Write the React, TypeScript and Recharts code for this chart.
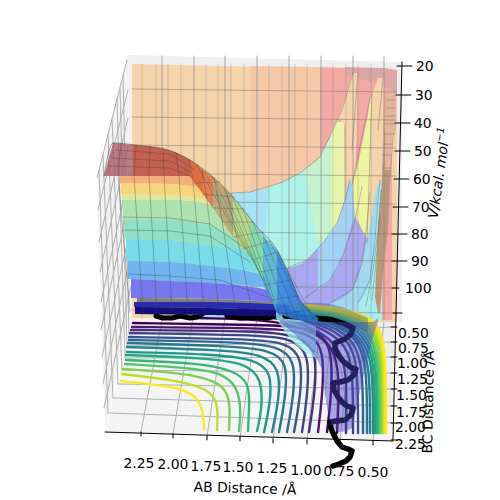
import React from 'react';
import { ComposedChart, Area, Line, XAxis, YAxis, LabelList } from 'recharts';

type Pt = [number, number];
type Col = [number, number, number]; // x, upper, lower

const paneBack: Col[] = [[127, 55, 55], [128, 55, 320], [402, 62, 322]];
const paneLeft: Col[] = [[97, 180, 180], [105, 150, 432], [127, 60, 322], [133, 58, 345]];
const paneFloor: Col[] = [[105, 432, 432], [133, 318, 433], [380, 320, 440], [393, 332, 441]];
const paneRight: Col[] = [[378, 68, 322], [393, 66, 441], [402, 63, 64]];

const wallBase: Col[] = [[132, 64, 318], [397, 70, 322]];
const wallSalmon: Col[] = [[250, 66, 200], [320, 67, 200]];
const wallPink: Col[] = [[320, 67, 320], [392, 69, 320]];
const wallTopDark: Col[] = [[345, 67, 75], [383, 68, 85], [397, 70, 95]];
const belowFirstCurve: Col[] = [[200, 196, 320], [233, 193, 320], [250, 192, 320], [283, 182, 320], [300, 173, 320], [310, 166, 320], [320, 157, 320], [333, 130, 320], [338, 118, 320]];
const cyanPatch: Col[] = [[262, 260, 320], [266, 225, 320], [270, 188, 320], [283, 182, 320], [300, 173, 320], [310, 166, 320], [320, 157, 320], [333, 130, 320], [338, 118, 320]];
const mintPatch: Col[] = [[305, 170, 180], [310, 166, 200], [318, 159, 243], [323, 150, 243], [331, 135, 230], [338, 118, 222]];
const yellowFirst: Col[] = [[331, 135, 228], [337, 122, 223], [343, 122, 205], [345, 125, 200]];
const orangeFirst: Col[] = [[338, 118, 119], [344, 102, 123], [345, 98, 205], [352, 74, 205], [355, 73, 190], [358, 73, 74]];
const yellowSecond: Col[] = [[352, 185, 186], [355, 178, 215], [360, 155, 225], [364, 135, 235], [368, 115, 240], [370, 98, 240], [372, 97, 130]];
const orangeSecond: Col[] = [[369, 238, 239], [372, 95, 215], [378, 78, 190], [382, 78, 180], [384, 78, 80]];
const purpleLow: Col[] = [[287, 268, 320], [307, 260, 320], [318, 248, 320]];
const lightBlue: Col[] = [[318, 248, 320], [323, 243, 320], [337, 223, 320], [345, 200, 320], [350, 180, 320], [352, 186, 320], [355, 215, 320], [362, 240, 320]];
const purpleMid: Col[] = [[305, 298, 320], [318, 290, 320], [330, 280, 320], [343, 255, 320], [355, 219, 320], [362, 230, 320], [368, 240, 320]];
const lightBlueRight: Col[] = [[330, 303, 320], [352, 290, 320], [362, 263, 320], [367, 240, 320], [372, 215, 320], [376, 190, 320], [382, 180, 320]];
const cyanRight: Col[] = [[358, 303, 320], [370, 280, 320], [375, 240, 320], [378, 200, 320], [382, 180, 320]];
const brownEdge: Col[] = [[375, 297, 297], [378, 230, 313], [380, 205, 313], [382, 180, 285], [386, 93, 245], [388, 93, 230], [390, 93, 185], [393, 93, 143], [396, 93, 127]];
const paleEdge: Col[] = [[385, 93, 170], [390, 93, 170], [393, 93, 143], [396, 93, 127]];

const domeMauve: Col[] = [[104, 176, 176], [113, 143, 176], [133, 145, 176]];
const domeRed: Col[] = [[133, 145, 176], [168, 150, 176], [190, 160, 180], [203, 170, 194]];
const domeOrange: Col[] = [[120, 176, 183], [170, 176, 184], [188, 176, 186], [197, 186, 187]];
const domeYellow: Col[] = [[121, 183, 194], [170, 184, 195], [197, 187, 198], [206, 198, 199]];
const domePale: Col[] = [[122, 194, 200], [170, 195, 200], [206, 199, 204], [210, 204, 205]];
const domeGreen: Col[] = [[123, 200, 220], [170, 200, 220], [210, 205, 226], [240, 238, 241]];
const domeMint: Col[] = [[125, 220, 239], [170, 220, 240], [210, 226, 246], [240, 241, 252], [257, 252, 253]];
const domeCyan: Col[] = [[126, 239, 261], [170, 240, 262], [210, 246, 266], [257, 252, 273], [262, 275, 276]];
const domeBlue: Col[] = [[128, 261, 279], [170, 262, 281], [210, 266, 283], [262, 275, 287], [268, 290, 291]];
const domePeri: Col[] = [[131, 279, 298], [170, 281, 298], [210, 283, 299], [268, 290, 302], [274, 303, 304]];
const domeGrey: Col[] = [[137, 298, 302], [210, 299, 302], [274, 302, 305]];
const domeDeep: Col[] = [[134, 302, 307], [210, 302, 308], [290, 305, 311]];
const domeNavy: Col[] = [[135, 307, 314], [210, 308, 315], [300, 311, 317]];

const wedgeRed: Col[] = [[190, 160, 177], [203, 170, 194], [213, 177, 208]];
const wedgeOlive: Col[] = [[213, 177, 208], [233, 197, 237]];
const wedgeLime: Col[] = [[233, 197, 237], [250, 218, 257]];
const wedgeGreen: Col[] = [[250, 218, 257], [263, 236, 280]];
const wedgeTeal: Col[] = [[263, 236, 280], [277, 250, 313]];
const wedgeBlue: Col[] = [[277, 250, 313], [290, 277, 318], [300, 300, 320], [318, 318, 322]];
const paleTail: Col[] = [[276, 312, 318], [290, 317, 338], [305, 322, 352], [316, 326, 358]];
const arcShade: Col[] = [[240, 303, 316], [320, 303, 317], [350, 310, 325], [368, 318, 332]];

const blob: Col[] = [[280, 320, 322], [300, 322, 340], [322, 322, 370], [325, 322, 395], [330, 322, 420], [340, 322, 432], [352, 322, 428], [358, 322, 400], [365, 322, 370], [372, 322, 340], [378, 318, 322]];

const floorLines: Pt[][] = [
  [[133, 323], [270, 325], [310, 327], [332, 342], [332, 390], [327, 432]],
  [[132, 327], [265, 328], [305, 331], [325, 346], [322, 400], [318, 432]],
  [[131, 330], [260, 331], [297, 335], [318, 350], [314, 400], [309, 432]],
  [[130, 333], [255, 335], [290, 338], [310, 352], [307, 400], [302, 432]],
  [[129, 337], [245, 339], [285, 342], [303, 356], [300, 400], [294, 432]],
  [[129, 340], [240, 342], [278, 346], [296, 360], [293, 400], [287, 432]],
  [[128, 343], [230, 346], [270, 350], [288, 362], [285, 400], [279, 432]],
  [[127, 347], [220, 350], [262, 354], [280, 368], [279, 400], [272, 432]],
  [[127, 352], [210, 354], [255, 359], [272, 372], [270, 405], [264, 432]],
  [[126, 355], [205, 358], [245, 363], [262, 378], [262, 410], [257, 431]],
  [[126, 360], [197, 363], [233, 370], [250, 383], [249, 410], [248, 431]],
  [[125, 364], [190, 368], [223, 373], [238, 388], [241, 410], [239, 431]],
  [[123, 369], [183, 373], [217, 381], [228, 393], [230, 410], [229, 430]],
  [[122, 374], [173, 380], [203, 387], [215, 397], [218, 410], [217, 430]],
  [[121, 381], [157, 385], [180, 388], [197, 397], [203, 410], [204, 429]],
];
const floorColors = ['#440154', '#481a6c', '#472f7d', '#414487', '#39568c', '#31688e', '#2a788e', '#23888e', '#1f988b', '#22a884', '#35b779', '#54c568', '#7ad151', '#bddf26', '#fde725'];

const outerLines: Pt[][] = [
  [[200, 318], [280, 320], [316, 333], [333, 347], [340, 375], [337, 433]],
  [[240, 315], [292, 319], [325, 334], [340, 350], [347, 372], [346, 433]],
  [[240, 314], [296, 318], [330, 332], [346, 346], [353, 368], [353, 433]],
  [[240, 314], [298, 317], [334, 330], [350, 343], [358, 365], [358, 433]],
  [[240, 313], [300, 316], [337, 328], [353, 341], [363, 363], [363, 433]],
  [[240, 312], [302, 315], [340, 326], [356, 339], [367, 361], [367, 433]],
  [[240, 311], [304, 314], [342, 325], [358, 338], [370, 360], [370, 433]],
  [[240, 310], [306, 313], [344, 324], [360, 337], [373, 358], [373, 433]],
  [[240, 309], [308, 312], [346, 322], [362, 335], [375, 356], [375, 433]],
  [[240, 308], [310, 311], [348, 320], [364, 333], [377, 354], [377, 433]],
  [[240, 307], [312, 310], [350, 319], [366, 331], [379, 352], [379, 433]],
  [[240, 307], [313, 309], [351, 318], [368, 330], [380, 351], [380, 433]],
  [[240, 306], [314, 308], [352, 317], [370, 328], [382, 349], [382, 433]],
  [[240, 306], [315, 307], [354, 316], [372, 327], [383, 348], [383, 433]],
  [[240, 305], [316, 306], [355, 315], [374, 325], [384, 346], [384, 433]],
  [[240, 305], [316, 305], [356, 314], [375, 324], [385, 345], [385, 433]],
  [[240, 304], [317, 304], [358, 312], [377, 322], [386, 344], [386, 433]],
];
const outerColors = ['#440154', '#472f7d', '#433e85', '#3b528b', '#33638d', '#2c728e', '#26818e', '#21908d', '#1f9e89', '#27ad81', '#3eb977', '#5ec962', '#7ad151', '#a0da39', '#c5e021', '#e2e418', '#fde725'];

const blackPath: Pt[] = [[285, 316], [300, 317], [313, 318], [325, 319], [333, 320], [345, 324], [353, 328], [351, 334], [345, 339], [335, 343], [335, 349], [338, 355], [343, 361], [350, 367], [356, 369], [354, 375], [348, 380], [340, 382], [333, 383], [334, 390], [338, 397], [342, 402], [347, 406], [353, 408], [351, 415], [345, 420], [336, 421], [330, 422], [331, 428], [333, 433], [337, 441], [342, 447], [348, 449], [352, 451], [350, 457], [346, 461], [339, 464], [333, 466]];
const blackLeft: Pt[] = [[156, 316], [163, 318], [172, 318], [180, 316], [190, 318], [198, 317], [205, 312]];
const blackMid: Pt[] = [[227, 316], [240, 318], [255, 317], [268, 318], [275, 316], [283, 314]];

const backGridX = [162, 194, 225, 257, 289, 321, 353, 384];
const floorGrid: Pt[][] = [[[141, 432], [162, 320]], [[173, 434], [193, 318]], [[207, 436], [225, 318]], [[240, 438], [257, 318]], [[273, 439], [289, 320]], [[307, 440], [321, 320]], [[340, 440], [353, 320]], [[373, 441], [384, 320]]];
const floorCross: Pt[][] = [[[108, 413], [393, 423]], [[113, 398], [394, 406]], [[118, 384], [394, 389]], [[122, 370], [395, 373]], [[125, 358], [395, 357]], [[127, 346], [396, 342]], [[129, 334], [396, 327]]];
const leftGrid: Pt[][] = [
  [[127, 60], [97, 178]], [[128, 90], [98, 210]], [[128, 118], [99, 242]], [[128, 146], [100, 272]], [[129, 174], [101, 302]], [[129, 202], [101, 330]], [[130, 230], [102, 357]], [[130, 258], [103, 384]], [[131, 286], [104, 408]],
  [[108, 413], [99, 170]], [[113, 398], [103, 155]], [[118, 384], [108, 135]], [[122, 370], [112, 118]], [[125, 358], [117, 100]], [[127, 346], [120, 88]], [[129, 334], [123, 75]],
];
const wallRowsY: Pt[] = [[132, 89], [396, 92]];
const wallRowOffsets = [0, 28, 56, 84, 112, 142, 169, 196, 221];
const meshX = [142, 156, 168, 181, 206, 218, 231, 244, 269, 282, 295, 307, 333, 346, 358, 371];
const edgeLines: Pt[][] = [
  [[200, 196], [233, 193], [250, 192], [283, 182], [300, 173], [320, 157], [333, 130], [343, 107], [353, 73]],
  [[287, 268], [307, 260], [323, 243], [337, 223], [345, 200], [350, 180]],
  [[305, 298], [330, 280], [343, 255], [355, 220], [362, 187]],
  [[330, 303], [352, 290], [362, 263], [367, 223], [370, 193]],
  [[358, 303], [370, 280], [375, 240], [378, 200], [380, 180]],
  [[352, 185], [370, 98]], [[345, 125], [345, 200]], [[358, 73], [352, 150]], [[372, 95], [367, 243]], [[383, 78], [378, 130]],
  [[366, 306], [373, 270], [378, 230], [381, 190]], [[372, 300], [376, 262], [380, 215]],
  [[386, 100], [396, 100]], [[386, 108], [396, 108]], [[385, 116], [396, 116]], [[385, 124], [396, 124]], [[384, 134], [394, 134]], [[384, 144], [393, 144]], [[383, 155], [392, 155]], [[383, 168], [390, 168]],
];

const domeMeshRows: Pt[][] = [
  [[116, 150], [170, 154], [195, 170]],
  [[112, 158], [170, 161], [190, 172]],
  [[108, 166], [170, 168], [190, 176]],
  [[122, 217], [170, 218], [210, 224], [245, 248]],
  [[124, 230], [170, 231], [210, 236], [250, 262]],
  [[128, 274], [170, 276], [220, 280], [270, 298]],
];
const domeMeshCols: Pt[][] = [
  [[121, 143], [118, 176], [130, 312]], [[136, 145], [134, 176], [143, 312]], [[150, 146], [149, 176], [157, 312]],
  [[163, 148], [164, 176], [172, 312]], [[176, 153], [179, 176], [188, 312]], [[189, 160], [193, 180], [204, 312]],
  [[202, 169], [207, 200], [219, 312]], [[214, 178], [222, 220], [236, 312]], [[226, 190], [240, 250], [252, 312]],
];
const wedgeHatch: Pt[][] = [
  [[196, 164], [250, 257]], [[204, 171], [258, 270]], [[213, 177], [263, 280]], [[223, 187], [268, 292]], [[233, 197], [274, 305]], [[243, 209], [280, 316]], [[253, 222], [289, 318]], [[262, 232], [298, 320]], [[270, 241], [308, 321]], [[278, 252], [315, 321]],
  [[195, 183], [220, 182]], [[203, 194], [233, 197]], [[213, 208], [243, 209]], [[223, 222], [253, 222]], [[233, 237], [262, 232]], [[243, 249], [270, 241]], [[252, 260], [278, 252]], [[259, 272], [285, 268]], [[265, 285], [291, 280]], [[271, 300], [298, 296]], [[278, 314], [310, 310]],
];
const blobCurves: Pt[][] = [
  [[300, 322], [335, 345], [345, 380], [345, 428]],
  [[320, 320], [350, 345], [358, 385], [352, 425]],
  [[340, 322], [362, 345], [366, 368]],
  [[330, 345], [325, 395]],
  [[310, 322], [330, 340], [338, 380], [336, 425]],
  [[330, 322], [356, 345], [362, 380]],
  [[350, 322], [366, 340], [370, 350]],
  [[305, 335], [340, 350], [360, 340]],
  [[312, 350], [345, 365], [364, 360]],
  [[322, 380], [342, 392], [358, 388]],
];

const domeOutline: Pt[] = [[104, 176], [113, 143], [135, 145], [168, 150], [190, 160], [213, 177], [233, 197], [257, 227], [277, 250], [290, 277], [300, 300], [318, 318]];
const axisZ: Pt[] = [[402, 62], [393, 440]];
const axisX: Pt[] = [[105, 432], [393, 441]];
const zTicks = ['20', '30', '40', '50', '60', '70', '80', '90', '100'];
const zTickX = [416, 415, 414, 414, 413, 412, 411, 411, 405];
const zTickY = [66, 95, 123, 151, 179, 207, 234, 261, 288];
const abTicks = ['2.25', '2.00', '1.75', '1.50', '1.25', '1.00', '0.75', '0.50'];
const abTickX = [139, 173, 206, 238, 272, 306, 339, 373];
const abTickY = [463, 464, 466, 467, 468, 470, 471, 472];
const abMarkX = [141, 173, 207, 240, 273, 307, 340, 373];
const abMarkY = [432, 434, 436, 437, 439, 440, 440, 441];
const bcTicks = ['0.50', '0.75', '1.00', '1.25', '1.50', '1.75', '2.00', '2.25'];
const bcTickX = [398, 398, 397, 397, 396, 396, 395, 395];
const bcTickY = [333, 348, 363, 379, 395, 412, 427, 444];
const bcMarkY = [327, 342, 357, 373, 389, 406, 423, 440];

const FONT = '"DejaVu Sans", sans-serif';

const cols = (c: Col[]) => c.map(([x, a, b]) => ({ x, band: [a, b] }));
const pts = (p: Pt[]) => p.map(([x, y]) => ({ x, y }));

export default function App() {
  let z = 1;
  const fill = (c: Col[], color: string, opacity = 1, curve: any = 'monotoneX') => {
    const n = z++;
    return (
      <Area key={'f' + n} zIndex={n} data={cols(c)} dataKey="band" type={curve} fill={color} fillOpacity={opacity} stroke="none" dot={false} activeDot={false} isAnimationActive={false} />
    );
  };
  const line = (p: Pt[], color: string, width = 1, opacity = 1, curve: any = 'linear') => {
    const n = z++;
    return (
      <Line key={'l' + n} zIndex={n} data={pts(p)} dataKey="y" type={curve} stroke={color} strokeWidth={width} strokeOpacity={opacity} strokeLinecap="round" strokeLinejoin="round" dot={false} activeDot={false} isAnimationActive={false} />
    );
  };
  const labels = (names: string[], xs: number[], ys: number[], anchor: string, extra: any = {}) => {
    const n = z++;
    const rows = names.map((name, i) => ({ x: xs[i], y: ys[i], name }));
    return (
      <Line key={'t' + n} zIndex={n} data={rows} dataKey="y" stroke="none" dot={false} activeDot={false} isAnimationActive={false}>
        <LabelList
          dataKey="name"
          content={(p: any) => (
            <text
              x={p.x}
              y={p.y}
              textAnchor={anchor as any}
              dominantBaseline="central"
              fontFamily={FONT}
              fontSize={13.9}
              fontStyle={extra.italic ? 'italic' : 'normal'}
              fill="#000"
              transform={extra.angle ? `rotate(${extra.angle} ${p.x} ${p.y})` : undefined}
            >
              {p.value}
              {extra.sup ? (
                <tspan dy={-5} fontSize={10}>
                  {extra.sup}
                </tspan>
              ) : null}
            </text>
          )}
        />
      </Line>
    );
  };

  return (
    <div style={{ position: 'absolute', left: 0, top: 0, width: 500, height: 500 }}>
      <ComposedChart width={500} height={500} margin={{ top: 0, right: 0, bottom: 0, left: 0 }}>
        <XAxis dataKey="x" type="number" domain={[0, 500]} hide allowDataOverflow />
        <YAxis type="number" domain={[0, 500]} reversed hide allowDataOverflow />
        {fill(paneBack, '#f0f0f0', 1, 'linear')}
        {fill(paneLeft, '#f2f2f2', 1, 'linear')}
        {fill(paneFloor, '#f4f4f4', 1, 'linear')}
        {fill(paneRight, '#ededed', 1, 'linear')}
        {leftGrid.map((g) => line(g, '#b0b0b0', 1))}
        {floorGrid.map((g) => line(g, '#b0b0b0', 1))}
        {floorCross.map((g) => line(g, '#b0b0b0', 1))}

        {fill(wallBase, '#f5d3ab', 1, 'linear')}
        {fill(wallSalmon, '#f4c9a8', 1, 'linear')}
        {fill(wallPink, '#f3aaa5', 1, 'linear')}
        {fill(wallTopDark, '#dca6a6', 1, 'linear')}
        {fill(belowFirstCurve, '#a9e2f6')}
        {fill(cyanPatch, '#aef3ea')}
        {fill(mintPatch, '#c6f3cf')}
        {fill(yellowFirst, '#e9f5ab')}
        {fill(orangeFirst, '#f5d3ab', 1, 'linear')}
        {fill(yellowSecond, '#eef5a0', 1, 'linear')}
        {fill(orangeSecond, '#f5d3ab', 1, 'linear')}
        {fill(purpleLow, '#aaa8f0')}
        {fill(lightBlue, '#a3d2f5')}
        {fill(purpleMid, '#aaa8f0')}
        {fill(lightBlueRight, '#a0d8f0')}
        {fill(cyanRight, '#a8ecec')}
        {fill(brownEdge, '#bc9678', 1, 'linear')}
        {fill(paleEdge, '#e6b496', 1, 'linear')}
        {backGridX.map((x) => line([[x, 56], [x, 320]], '#8f8f8f', 1, 0.75))}
        {meshX.map((x) => line([[x, 64], [x, 318]], '#6f6f6f', 0.6, 0.45))}
        {wallRowOffsets.map((o) => line(wallRowsY.map(([x, y]) => [x, y + o] as Pt), '#6f6f6f', 0.8, 0.6))}
        {edgeLines.map((l) => line(l, '#555', 0.6, 0.6))}

        {outerLines.map((l, i) => line(l, outerColors[i], 2.4, 1, 'basis'))}
        {floorLines.map((l, i) => line(l, floorColors[i], 2.4, 1, 'basis'))}
        {fill(arcShade, '#3040a0', 0.35)}
        {line(blackLeft, '#000', 5)}
        {line(blackMid, '#000', 5)}

        {fill(domeMauve, '#a8525f', 0.75, 'linear')}
        {fill(domeRed, '#c4604f')}
        {fill(domeOrange, '#f3b07c')}
        {fill(domeYellow, '#f8d57c')}
        {fill(domePale, '#dfe79d')}
        {fill(domeGreen, '#aee3b0')}
        {fill(domeMint, '#90e0c6')}
        {fill(domeCyan, '#78dde8')}
        {fill(domeBlue, '#70b5f0')}
        {fill(domePeri, '#7878ee')}
        {fill(domeGrey, '#808080')}
        {fill(domeDeep, '#2a2ab0')}
        {fill(domeNavy, '#14107a')}
        {fill(paleTail, '#9ff0ee', 0.75)}
        {line(blackPath, '#000', 5.5)}
        {fill(blob, '#4a48c8', 0.45)}
        {fill(wedgeRed, '#e3703e', 0.85, 'linear')}
        {fill(wedgeOlive, '#b9a26e', 0.85, 'linear')}
        {fill(wedgeLime, '#b7d67a', 0.85, 'linear')}
        {fill(wedgeGreen, '#80d8a0', 0.85, 'linear')}
        {fill(wedgeTeal, '#52aed0', 0.85, 'linear')}
        {fill(wedgeBlue, '#2f80e0', 0.85, 'linear')}
        {domeMeshRows.map((l) => line(l, '#3d3d3d', 0.7, 0.5))}
        {domeMeshCols.map((l) => line(l, '#3d3d3d', 0.7, 0.5))}
        {wedgeHatch.map((l) => line(l, '#3d3d3d', 0.6, 0.5))}
        {blobCurves.map((l) => line(l, '#3a3a6a', 0.5, 0.5, 'basis'))}
        {line(domeOutline, '#333', 0.7, 0.7, 'monotoneX')}

        {line(axisZ, '#000', 1)}
        {line(axisX, '#000', 1)}
        {zTickY.map((y, i) => line([[zTickX[i] - 19 + (i === 8 ? 6 : 0), y], [zTickX[i] - 4 + (i === 8 ? -2 : 0), y]], '#000', 1))}
        {line([[393, 313], [402, 313]], '#000', 1)}
        {abMarkX.map((x, i) => line([[x, abMarkY[i]], [x, abMarkY[i] + 4]], '#000', 1))}
        {bcMarkY.map((y) => line([[391, y], [397, y]], '#000', 1))}
        {labels(zTicks, zTickX, zTickY, 'start')}
        {labels(abTicks, abTickX, abTickY, 'middle')}
        {labels(bcTicks, bcTickX, bcTickY, 'start')}
        {labels(['AB Distance /Å'], [245], [488], 'middle', { angle: 1.8 })}
        {labels(['BC Distance /Å'], [428], [402], 'middle', { angle: -89 })}
        {labels(['V/kcal. mol'], [439], [173], 'middle', { angle: -82, italic: true, sup: '−1' })}
      </ComposedChart>
    </div>
  );
}
